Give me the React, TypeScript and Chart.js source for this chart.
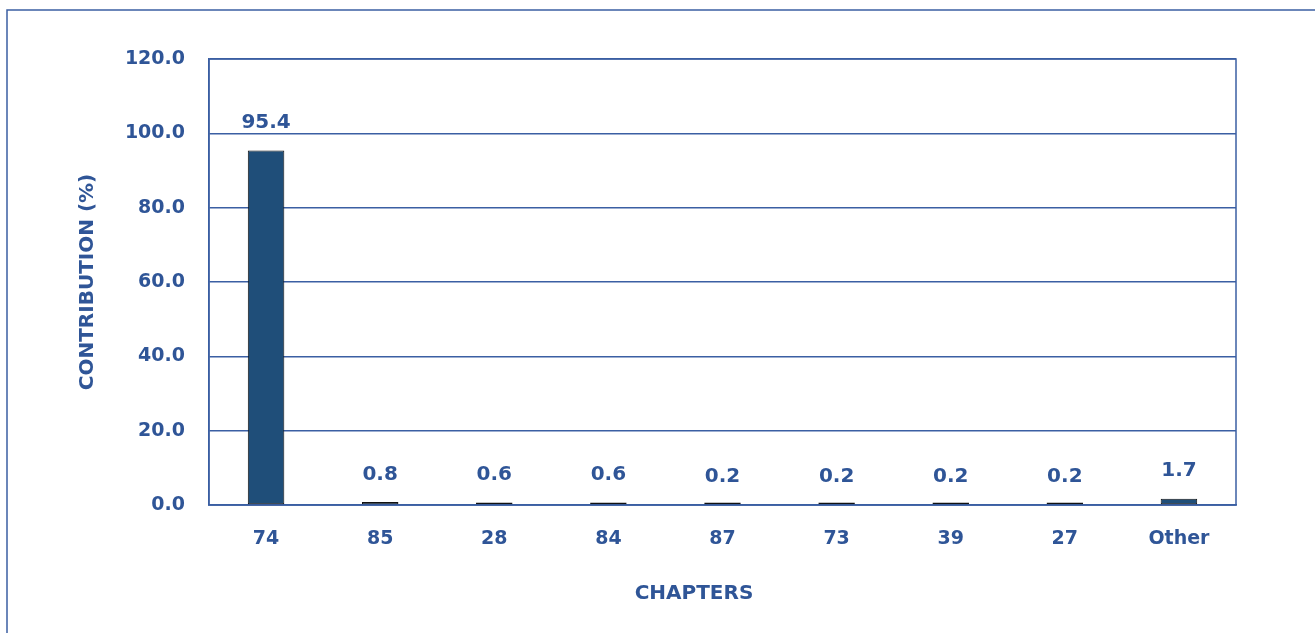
import React, { useEffect, useRef } from "react";
import { Chart, registerables } from "chart.js";

Chart.register(...registerables);

const categories = ["74", "85", "28", "84", "87", "73", "39", "27", "Other"];
const contribution = [95.4, 0.8, 0.6, 0.6, 0.2, 0.2, 0.2, 0.2, 1.7];
const yTicks = [0, 20, 40, 60, 80, 100, 120];
const xTitle = "CHAPTERS";
const yTitle = "CONTRIBUTION (%)";

const TEXT = "#2F5597";
const LINE = "#3B5FA3";
const BAR = "#1F4E79";
const FONT = "'DejaVu Sans', sans-serif";

const W = 1315;
const H = 633;
const PLOT_LEFT = 209;
const PLOT_TOP = 59;
const PLOT_RIGHT = 1236;
const PLOT_BOTTOM = 505;

export default function App() {
  const ref = useRef<HTMLCanvasElement | null>(null);

  useEffect(() => {
    const canvas = ref.current;
    if (!canvas) return;

    const framePlugin = {
      id: "framePlugin",
      beforeDraw(chart: any) {
        const ctx = chart.ctx;
        ctx.save();
        ctx.strokeStyle = LINE;
        ctx.lineWidth = 1.5;
        ctx.beginPath();
        ctx.moveTo(7, H + 5);
        ctx.lineTo(7, 10);
        ctx.lineTo(W + 5, 10);
        ctx.stroke();
        ctx.restore();
      },
      beforeDatasetsDraw(chart: any) {
        const ctx = chart.ctx;
        const area = chart.chartArea;
        ctx.save();
        ctx.strokeStyle = LINE;
        ctx.lineWidth = 1.5;
        ctx.strokeRect(area.left, area.top, area.right - area.left, area.bottom - area.top);
        ctx.restore();
      },
      afterDatasetsDraw(chart: any) {
        const ctx = chart.ctx;
        const yScale = chart.scales.y;
        ctx.save();
        const meta = chart.getDatasetMeta(0);
        ctx.fillStyle = TEXT;
        ctx.font = `bold 20px ${FONT}`;
        ctx.textAlign = "center";
        ctx.textBaseline = "middle";
        meta.data.forEach((el: any, i: number) => {
          const v = chart.data.datasets[0].data[i] as number;
          const top = yScale.getPixelForValue(v);
          ctx.fillText(v.toFixed(1), el.x, top - 27.5);
        });
        ctx.fillText(xTitle, 694, 594);
        ctx.restore();
      },
    };

    const chart = new Chart(canvas, {
      type: "bar",
      data: {
        labels: categories,
        datasets: [
          {
            data: contribution,
            backgroundColor: BAR,
            borderColor: "#111111",
            borderWidth: 1,
            borderSkipped: false,
            minBarLength: 2.5,
            categoryPercentage: 1,
            barPercentage: 0.32,
          },
        ],
      },
      options: {
        animation: false,
        responsive: false,
        maintainAspectRatio: false,
        layout: { padding: { left: 70, top: PLOT_TOP, right: W - PLOT_RIGHT, bottom: 0 } },
        plugins: { legend: { display: false }, tooltip: { enabled: false } },
        scales: {
          x: {
            grid: { display: false, drawTicks: false },
            border: { display: true, color: LINE, width: 1.5 },
            ticks: { color: TEXT, font: { family: FONT, size: 19, weight: "bold" }, padding: 23 },
            afterFit(scale: any) {
              scale.height = H - PLOT_BOTTOM;
            },
          },
          y: {
            min: 0,
            max: 120,
            afterBuildTicks(scale: any) {
              scale.ticks = yTicks.map((v) => ({ value: v }));
            },
            grid: { color: LINE, lineWidth: 1.5, drawTicks: false },
            border: { display: true, color: LINE, width: 1.5 },
            ticks: {
              color: TEXT,
              font: { family: FONT, size: 19, weight: "bold" },
              padding: 24,
              callback: (v: any) => Number(v).toFixed(1),
            },
            title: {
              display: true,
              text: yTitle,
              color: TEXT,
              font: { family: FONT, size: 20, weight: "bold" },
              padding: { top: 6, bottom: 0 },
            },
            afterFit(scale: any) {
              scale.width = PLOT_LEFT - 70;
            },
          },
        },
      },
      plugins: [framePlugin],
    });

    return () => chart.destroy();
  }, []);

  return (
    <div style={{ position: "absolute", left: 0, top: 0, width: W, height: H, background: "#fff", overflow: "hidden" }}>
      <canvas ref={ref} width={W} height={H} style={{ display: "block", width: W, height: H }} />
    </div>
  );
}
